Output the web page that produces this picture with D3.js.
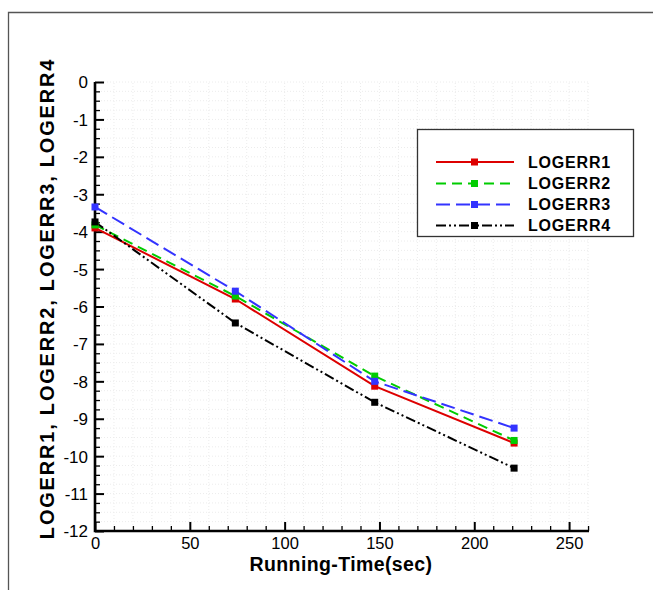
<!DOCTYPE html>
<html>
<head>
<meta charset="utf-8">
<script src="https://cdn.jsdelivr.net/npm/d3@7"></script>
<style>
  html, body { margin: 0; padding: 0; background: #fff; }
  svg { display: block; font-family: "Liberation Sans", Arial, sans-serif; }
</style>
</head>
<body>
<svg id="chart" width="653" height="590"></svg>
<script>
// Running time of each sample (seconds)
const runningTime = [0, 74, 147.5, 221];

// log10 error for each variable
const logerr1 = [-3.90, -5.80, -8.13, -9.65];
const logerr2 = [-3.82, -5.72, -7.86, -9.58];
const logerr3 = [-3.34, -5.59, -8.00, -9.25];
const logerr4 = [-3.74, -6.44, -8.56, -10.32];

const seriesNames = ["LOGERR1", "LOGERR2", "LOGERR3", "LOGERR4"];
const seriesValues = [logerr1, logerr2, logerr3, logerr4];
const seriesColors = ["#dd0000", "#00cc00", "#3333ff", "#000000"];
const seriesDash = [null, "10,6", "14,6", "10,3,2,3,2,3"];

const xTicks = [0, 50, 100, 150, 200, 250];
const yTicks = [0, -1, -2, -3, -4, -5, -6, -7, -8, -9, -10, -11, -12];

const svg = d3.select("#chart");

// outer frame
svg.append("path")
  .attr("d", "M8.5,600 V12.5 H660")
  .attr("fill", "none").attr("stroke", "#555").attr("stroke-width", 1.3);

const x = d3.scaleLinear().domain([0, 260.5]).range([95, 589]);
const y = d3.scaleLinear().domain([-12, 0]).range([531, 82]);

// faint dotted grid on minor ticks
const g = svg.append("g");
const xMinor = d3.range(10, 261, 10);
const yMinor = d3.range(-11.75, 0.01, 0.25);
g.selectAll("line.gx").data(xMinor).join("line")
  .attr("x1", d => x(d)).attr("x2", d => x(d))
  .attr("y1", y(-12)).attr("y2", y(0))
  .attr("stroke", "#ececec").attr("stroke-width", 1).attr("stroke-dasharray", "1,2");
g.selectAll("line.gy").data(yMinor).join("line")
  .attr("x1", x(0)).attr("x2", x(260.5))
  .attr("y1", d => y(d)).attr("y2", d => y(d))
  .attr("stroke", "#ececec").attr("stroke-width", 1).attr("stroke-dasharray", "1,2");

// minor ticks (pointing inward)
const minorX = d3.range(10, 261, 10).filter(v => v % 50 !== 0);
const minorY = d3.range(-11.75, 0.01, 0.25).filter(v => Math.abs(v - Math.round(v)) > 1e-6);
svg.append("g").attr("transform", `translate(0,${y(-12)})`)
  .call(d3.axisTop(x).tickValues(minorX).tickSize(5).tickFormat(""))
  .call(s => { s.select(".domain").remove(); s.selectAll("line").attr("stroke-width", 1.3); });
svg.append("g").attr("transform", `translate(${x(0)},0)`)
  .call(d3.axisRight(y).tickValues(minorY).tickSize(5).tickFormat(""))
  .call(s => { s.select(".domain").remove(); s.selectAll("line").attr("stroke-width", 1.3); });

// major x axis
svg.append("g").attr("transform", `translate(0,${y(-12)})`)
  .call(d3.axisTop(x).tickValues(xTicks).tickSize(9).tickFormat(d3.format("d")))
  .call(s => {
    s.select(".domain").remove();
    s.selectAll("line").attr("stroke-width", 2);
    s.selectAll("text").attr("y", 6).attr("dy", "0.71em")
      .attr("font-size", 16.5).attr("fill", "#000")
      .attr("font-family", "Liberation Sans, Arial, sans-serif");
  });

// major y axis
svg.append("g").attr("transform", `translate(${x(0)},0)`)
  .call(d3.axisRight(y).tickValues(yTicks).tickSize(9).tickFormat(d3.format("d")))
  .call(s => {
    s.select(".domain").remove();
    s.selectAll("line").attr("stroke-width", 2);
    s.selectAll("text").attr("x", -7).attr("text-anchor", "end").attr("dy", "0.35em")
      .attr("font-size", 17).attr("fill", "#000")
      .attr("font-family", "Liberation Sans, Arial, sans-serif")
      .text(d => d === 0 ? "0" : "-" + Math.abs(d));
  });

// axis lines
svg.append("path")
  .attr("d", `M${x(0)},${y(0)} V${y(-12)} H${x(260.5)}`)
  .attr("fill", "none").attr("stroke", "#000").attr("stroke-width", 2.6);

// axis titles
svg.append("text")
  .attr("x", 341).attr("y", 571)
  .attr("text-anchor", "middle").attr("font-size", 19.5).attr("font-weight", "bold")
  .attr("letter-spacing", 0.4)
  .text("Running-Time(sec)");
svg.append("text")
  .attr("transform", `translate(54,${(y(0) + y(-12)) / 2 - 8}) rotate(-90)`)
  .attr("text-anchor", "middle").attr("font-size", 20).attr("font-weight", "bold")
  .attr("letter-spacing", 1.8)
  .text("LOGERR1, LOGERR2, LOGERR3, LOGERR4");

// series lines and markers
const line = d3.line().x((d, i) => x(runningTime[i])).y(d => y(d));
seriesValues.forEach((vals, k) => {
  svg.append("path").datum(vals)
    .attr("d", line)
    .attr("fill", "none").attr("stroke", seriesColors[k]).attr("stroke-width", 2)
    .attr("stroke-dasharray", seriesDash[k]);
});
seriesValues.forEach((vals, k) => {
  svg.append("g").selectAll("rect").data(vals).join("rect")
    .attr("x", (d, i) => x(runningTime[i]) - 3.5)
    .attr("y", d => y(d) - 3.5)
    .attr("width", 7).attr("height", 7)
    .attr("fill", seriesColors[k]);
});

// legend
const lg = svg.append("g");
lg.append("rect").attr("x", 417.5).attr("y", 129.5).attr("width", 216).attr("height", 107)
  .attr("fill", "#fff").attr("stroke", "#333").attr("stroke-width", 1.3);
const rowY = [162, 183.5, 204.5, 225.5];
seriesNames.forEach((name, k) => {
  lg.append("line").attr("x1", 436).attr("x2", 514).attr("y1", rowY[k]).attr("y2", rowY[k])
    .attr("stroke", seriesColors[k]).attr("stroke-width", 2)
    .attr("stroke-dasharray", seriesDash[k]);
  lg.append("rect").attr("x", 471).attr("y", rowY[k] - 3.5).attr("width", 7).attr("height", 7)
    .attr("fill", seriesColors[k]);
  lg.append("text").attr("x", 528).attr("y", rowY[k]).attr("dy", "0.35em")
    .attr("font-size", 16).attr("font-weight", "bold").attr("letter-spacing", 0.8)
    .text(name);
});
</script>
</body>
</html>
